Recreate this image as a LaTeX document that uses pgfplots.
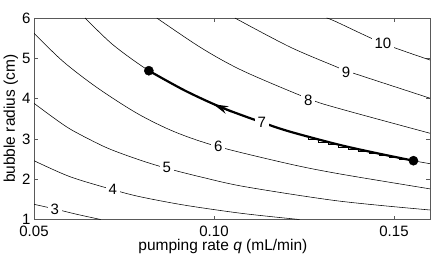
\documentclass[border=0pt]{standalone}
\usepackage{fontspec}
\setmainfont{Liberation Sans}
\usepackage{pgfplots}
\pgfplotsset{compat=1.18}
\usetikzlibrary{arrows.meta}

\begin{document}
\begin{tikzpicture}[x=1pt,y=1pt]
\begin{axis}[
  at={(0,0)}, anchor=south west,
  width=396pt, height=201.5pt, scale only axis,
  xmin=0.05, xmax=0.16, ymin=1, ymax=6,
  xtick={0.05,0.1,0.15}, xticklabels={0.05,0.10,0.15},
  ytick={1,2,3,4,5,6}, yticklabels={1,2,3,4,5,6},
  tick align=inside, major tick length=4pt,
  axis line style={black!65}, tick style={black!65},
  /pgf/number format/assume math mode=true,
  ticklabel style={font=\fontsize{15}{18}\selectfont},
  xticklabel style={yshift=-2.5pt},
  every axis x label/.style={at={(axis description cs:0.477,-0.1514)}, anchor=base, font=\fontsize{15.5}{18}\selectfont},
  every axis y label/.style={at={(axis description cs:-0.048,0.5)}, rotate=90, anchor=base, font=\fontsize{15.5}{18}\selectfont},
  xlabel={pumping rate \textit{q} (mL/min)},
  ylabel={bubble radius (cm)},
]
% contour 3
\addplot[black, line width=0.55pt, smooth] coordinates {(0.05,1.377) (0.0558,1.261) (0.0619,1.129) (0.0685,1.0)};
% contour 4
\addplot[black, line width=0.55pt, smooth] coordinates {(0.05,2.459) (0.06,2.062) (0.0719,1.74) (0.0794,1.566) (0.0919,1.355) (0.1079,1.15) (0.1237,1.0)};
% contour 5
\addplot[black, line width=0.55pt, smooth] coordinates {(0.05,3.883) (0.0563,3.469) (0.0609,3.20) (0.0702,2.78) (0.0794,2.476) (0.0869,2.27) (0.0966,2.05) (0.1086,1.814) (0.1345,1.46) (0.16,1.236)};
% contour 6
\addplot[black, line width=0.55pt, smooth] coordinates {(0.05,5.620) (0.0581,4.92) (0.0674,4.28) (0.0787,3.63) (0.0892,3.17) (0.1012,2.806) (0.1211,2.375) (0.135,2.13) (0.16,1.76)};
% contour 7
\addplot[black, line width=0.55pt, smooth] coordinates {(0.0642,6.0) (0.0720,5.33) (0.0819,4.692) (0.0919,4.20) (0.1021,3.78) (0.1133,3.41) (0.1211,3.18) (0.1345,2.86) (0.145,2.65) (0.1554,2.459) (0.16,2.385)};
% contour 8
\addplot[black, line width=0.55pt, smooth] coordinates {(0.0841,6.0) (0.0966,5.25) (0.108,4.69) (0.1262,4.0) (0.1345,3.76) (0.16,3.14)};
% contour 9
\addplot[black, line width=0.55pt, smooth] coordinates {(0.1058,6.0) (0.1211,5.28) (0.1345,4.77) (0.1367,4.69) (0.16,4.01)};
% contour 10
\addplot[black, line width=0.55pt, smooth] coordinates {(0.1313,6.0) (0.1339,5.908) (0.1469,5.372) (0.16,4.958)};
% trajectory
\addplot[black, line width=2.2pt, smooth] coordinates {(0.0819,4.692) (0.0919,4.20) (0.1021,3.78) (0.1133,3.41) (0.1211,3.18) (0.1345,2.86) (0.145,2.65) (0.1554,2.459)};
% staircase under the trajectory
\addplot[black, line width=0.6pt, const plot mark right] coordinates {(0.1262,3.05) (0.1290,2.984) (0.1318,2.921) (0.1346,2.860) (0.1374,2.802) (0.1402,2.746) (0.1430,2.692) (0.1458,2.641) (0.1486,2.591) (0.1514,2.543) (0.1542,2.497)};
\draw[black, line width=1.2pt, -{Stealth[length=15pt,width=8pt]}] (axis cs:0.1049,3.67) -- (axis cs:0.0998,3.86);
% contour labels
\begin{scope}[every node/.style={fill=white, inner xsep=3pt, inner ysep=1pt, font=\fontsize{15}{18}\selectfont}]
\node at (axis cs:0.0558,1.261) {3};
\node at (axis cs:0.0719,1.757) {4};
\node at (axis cs:0.0869,2.295) {5};
\node at (axis cs:0.1012,2.806) {6};
\node at (axis cs:0.1133,3.412) {7};
\node at (axis cs:0.1262,3.965) {8};
\node at (axis cs:0.1367,4.64) {9};
\node at (axis cs:0.1469,5.372) {10};
\end{scope}
% end points
\addplot[only marks, mark=*, mark size=4.6pt, black] coordinates {(0.0819,4.692) (0.1554,2.459)};
\end{axis}
\pgfresetboundingbox
\path[use as bounding box] (-34pt,-37.5pt) rectangle (402pt,219.5pt);
\end{tikzpicture}
\end{document}
